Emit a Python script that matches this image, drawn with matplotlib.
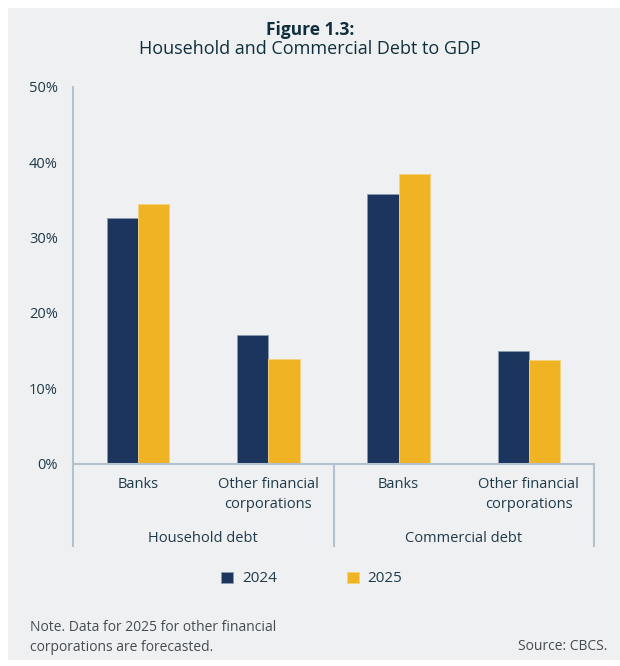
import numpy as np
import matplotlib.pyplot as plt
from matplotlib.patches import Rectangle
from matplotlib.lines import Line2D
from matplotlib.transforms import blended_transform_factory

plt.rcParams['font.family'] = ['Open Sans', 'DejaVu Sans']

groups = ["Household debt", "Commercial debt"]
categories = ["Banks", "Other financial\ncorporations", "Banks", "Other financial\ncorporations"]
years = ["2024", "2025"]
values_2024 = [32.6, 17.1, 35.8, 14.9]
values_2025 = [34.5, 13.9, 38.5, 13.8]
yticks = [0, 10, 20, 30, 40, 50]

NAVY = "#1c355e"
GOLD = "#f0b323"
TEXT = "#1f3a4a"
AXIS = "#b3c2ce"
PANEL = "#eff0f2"

fig = plt.figure(figsize=(6.2, 6.66), dpi=100)
fig.patch.set_facecolor("white")
fig.patches.append(Rectangle((8 / 620, 6 / 666), 612 / 620, 652 / 666,
                             transform=fig.transFigure, facecolor=PANEL,
                             edgecolor="none", zorder=-10))

ax = fig.add_axes([73 / 620, 1 - 463.5 / 666, 521 / 620, 376.5 / 666])
ax.set_facecolor("none")
ax.set_zorder(2)

x = np.arange(len(categories))
w = 0.24
ax.bar(x - w / 2, values_2024, w, color=NAVY, edgecolor="#8d9bb0", linewidth=0.6, label=years[0])
ax.bar(x + w / 2, values_2025, w, color=GOLD, edgecolor="#f6d27a", linewidth=0.6, label=years[1])

ax.set_xlim(-0.5, len(categories) - 0.5)
ax.set_ylim(0, 50)
ax.set_yticks(yticks)
ax.set_yticklabels([f"{t}%" for t in yticks], fontsize=10.5, color=TEXT)
ax.tick_params(axis="y", length=0, pad=11)
ax.set_xticks([])

for side in ["top", "right"]:
    ax.spines[side].set_visible(False)
for side in ["left", "bottom"]:
    ax.spines[side].set_color(AXIS)
    ax.spines[side].set_linewidth(1.5)

# category labels and group separators
tr = blended_transform_factory(ax.transData, ax.transAxes)
for xi, lab in zip(x, categories):
    ax.text(xi, -0.035, lab, transform=tr, ha="center", va="top",
            fontsize=10.5, color=TEXT, linespacing=1.5)
for gx in [-0.5, 1.5, 3.5]:
    ax.add_line(Line2D([gx, gx], [0, -0.22], transform=tr, color=AXIS,
                       lw=1.5, clip_on=False))
for gi, g in enumerate(groups):
    ax.text(gi * 2 + 0.5, -0.2, g, transform=tr, ha="center", va="center",
            fontsize=10.5, color=TEXT)

# title
fig.text(0.5, 1 - 30 / 666, "Figure 1.3:", ha="center", va="center",
         fontsize=12.5, fontweight="bold", color="#0f2f3d")
fig.text(0.5, 1 - 49 / 666, "Household and Commercial Debt to GDP", ha="center",
         va="center", fontsize=13, color="#0f2f3d")

# legend
leg = fig.legend(loc="center", bbox_to_anchor=(0.503, 1 - 579 / 666), ncol=2,
                 frameon=False, fontsize=11, handlelength=0.75, handleheight=0.75,
                 columnspacing=4.6, handletextpad=0.6)
for t in leg.get_texts():
    t.set_color(TEXT)

fig.text(30 / 620, 1 - 637.5 / 666, "Note. Data for 2025 for other financial\ncorporations are forecasted.",
         ha="left", va="center", fontsize=10, color="#444c52", linespacing=1.4)
fig.text(607 / 620, 1 - 647 / 666, "Source: CBCS.", ha="right", va="center",
         fontsize=10, color="#444c52")

fig.savefig("out.png", dpi=100, facecolor=fig.get_facecolor())
